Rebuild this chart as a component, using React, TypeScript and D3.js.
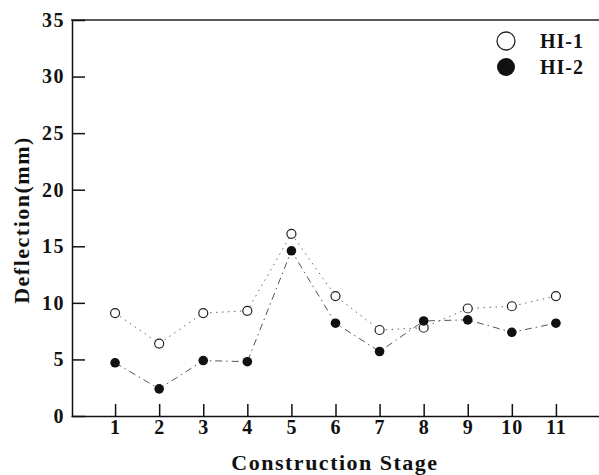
import { useEffect, useRef } from "react";
import * as d3 from "d3";

const stages = [1, 2, 3, 4, 5, 6, 7, 8, 9, 10, 11];
const hi1 = [9.1, 6.4, 9.1, 9.3, 16.1, 10.6, 7.6, 7.8, 9.5, 9.7, 10.6];
const hi2 = [4.7, 2.4, 4.9, 4.8, 14.6, 8.2, 5.7, 8.4, 8.5, 7.4, 8.2];
const yTicks = [0, 5, 10, 15, 20, 25, 30, 35];

const width = 599;
const height = 475;
const margin = { top: 20, bottom: 59, left: 71, right: 0 };
const font = "'Liberation Serif', 'Times New Roman', serif";

const App = () => {
  const xRef = useRef<SVGGElement>(null);
  const yRef = useRef<SVGGElement>(null);

  const bottom = height - margin.bottom;

  const xScale = d3.scaleLinear().domain([0, 12]).range([margin.left, 600]);
  const yScale = d3.scaleLinear().domain([0, 35]).range([bottom, margin.top]);

  const line = d3
    .line<number>()
    .x((_, i) => xScale(stages[i]))
    .y((d) => yScale(d));

  useEffect(() => {
    const xAxis = d3
      .axisBottom(xScale)
      .tickValues(stages)
      .tickFormat(d3.format("d"))
      .tickSizeInner(-12)
      .tickSizeOuter(0)
      .tickPadding(4);
    const yAxis = d3
      .axisLeft(yScale)
      .tickValues(yTicks)
      .tickSizeInner(-13)
      .tickSizeOuter(0)
      .tickPadding(7);

    const gx = d3.select(xRef.current!).call(xAxis);
    gx.selectAll("path,line").attr("stroke", "#111").attr("stroke-width", 1.5);
    gx.selectAll("text")
      .attr("font-size", "20px")
      .attr("font-weight", "bold")
      .attr("font-family", font)
      .attr("letter-spacing", "1px")
      .attr("fill", "#111");

    const gy = d3.select(yRef.current!).call(yAxis);
    gy.selectAll("path,line").attr("stroke", "#111").attr("stroke-width", 1.5);
    gy.selectAll("text")
      .attr("font-size", "20px")
      .attr("font-weight", "bold")
      .attr("font-family", font)
      .attr("letter-spacing", "1.5px")
      .attr("fill", "#111");
  }, []);

  return (
    <svg
      width={width}
      height={height}
      viewBox={`0 0 ${width} ${height}`}
      style={{ position: "absolute", left: 0, top: 0, background: "#fff" }}
    >
      {/* top frame line */}
      <line x1={margin.left} x2={width} y1={margin.top} y2={margin.top} stroke="#222" strokeWidth={1.5} />

      <path d={line(hi1) ?? ""} fill="none" stroke="#666" strokeWidth={1} strokeDasharray="1.5,4.5" />
      <path d={line(hi2) ?? ""} fill="none" stroke="#555" strokeWidth={1} strokeDasharray="7,4,1.5,4" />

      <g className="hi1">
        {hi1.map((d, i) => (
          <circle key={i} cx={xScale(stages[i])} cy={yScale(d)} r={4.5} fill="#fff" stroke="#222" strokeWidth={1.2} />
        ))}
      </g>
      <g className="hi2">
        {hi2.map((d, i) => (
          <circle key={i} cx={xScale(stages[i])} cy={yScale(d)} r={4.8} fill="#111" />
        ))}
      </g>

      <g ref={xRef} transform={`translate(0,${bottom})`} />
      <g ref={yRef} transform={`translate(${margin.left + 1},0)`} />

      {/* legend */}
      <g fontFamily={font} fontWeight="bold" fontSize={20} fill="#111" letterSpacing={1}>
        <circle cx={506} cy={41} r={9} fill="#fff" stroke="#222" strokeWidth={1.3} />
        <text x={540} y={48}>HI-1</text>
        <circle cx={506} cy={67} r={9} fill="#111" />
        <text x={540} y={74}>HI-2</text>
      </g>

      <text
        x={335}
        y={470}
        textAnchor="middle"
        fontFamily={font}
        fontWeight="bold"
        fontSize={22}
        letterSpacing={1.5}
        fill="#111"
      >
        Construction Stage
      </text>
      <text
        transform="translate(29,220) rotate(-90)"
        textAnchor="middle"
        fontFamily={font}
        fontWeight="bold"
        fontSize={22}
        letterSpacing={1.5}
        fill="#111"
      >
        Deflection(mm)
      </text>
    </svg>
  );
};

export default App;
